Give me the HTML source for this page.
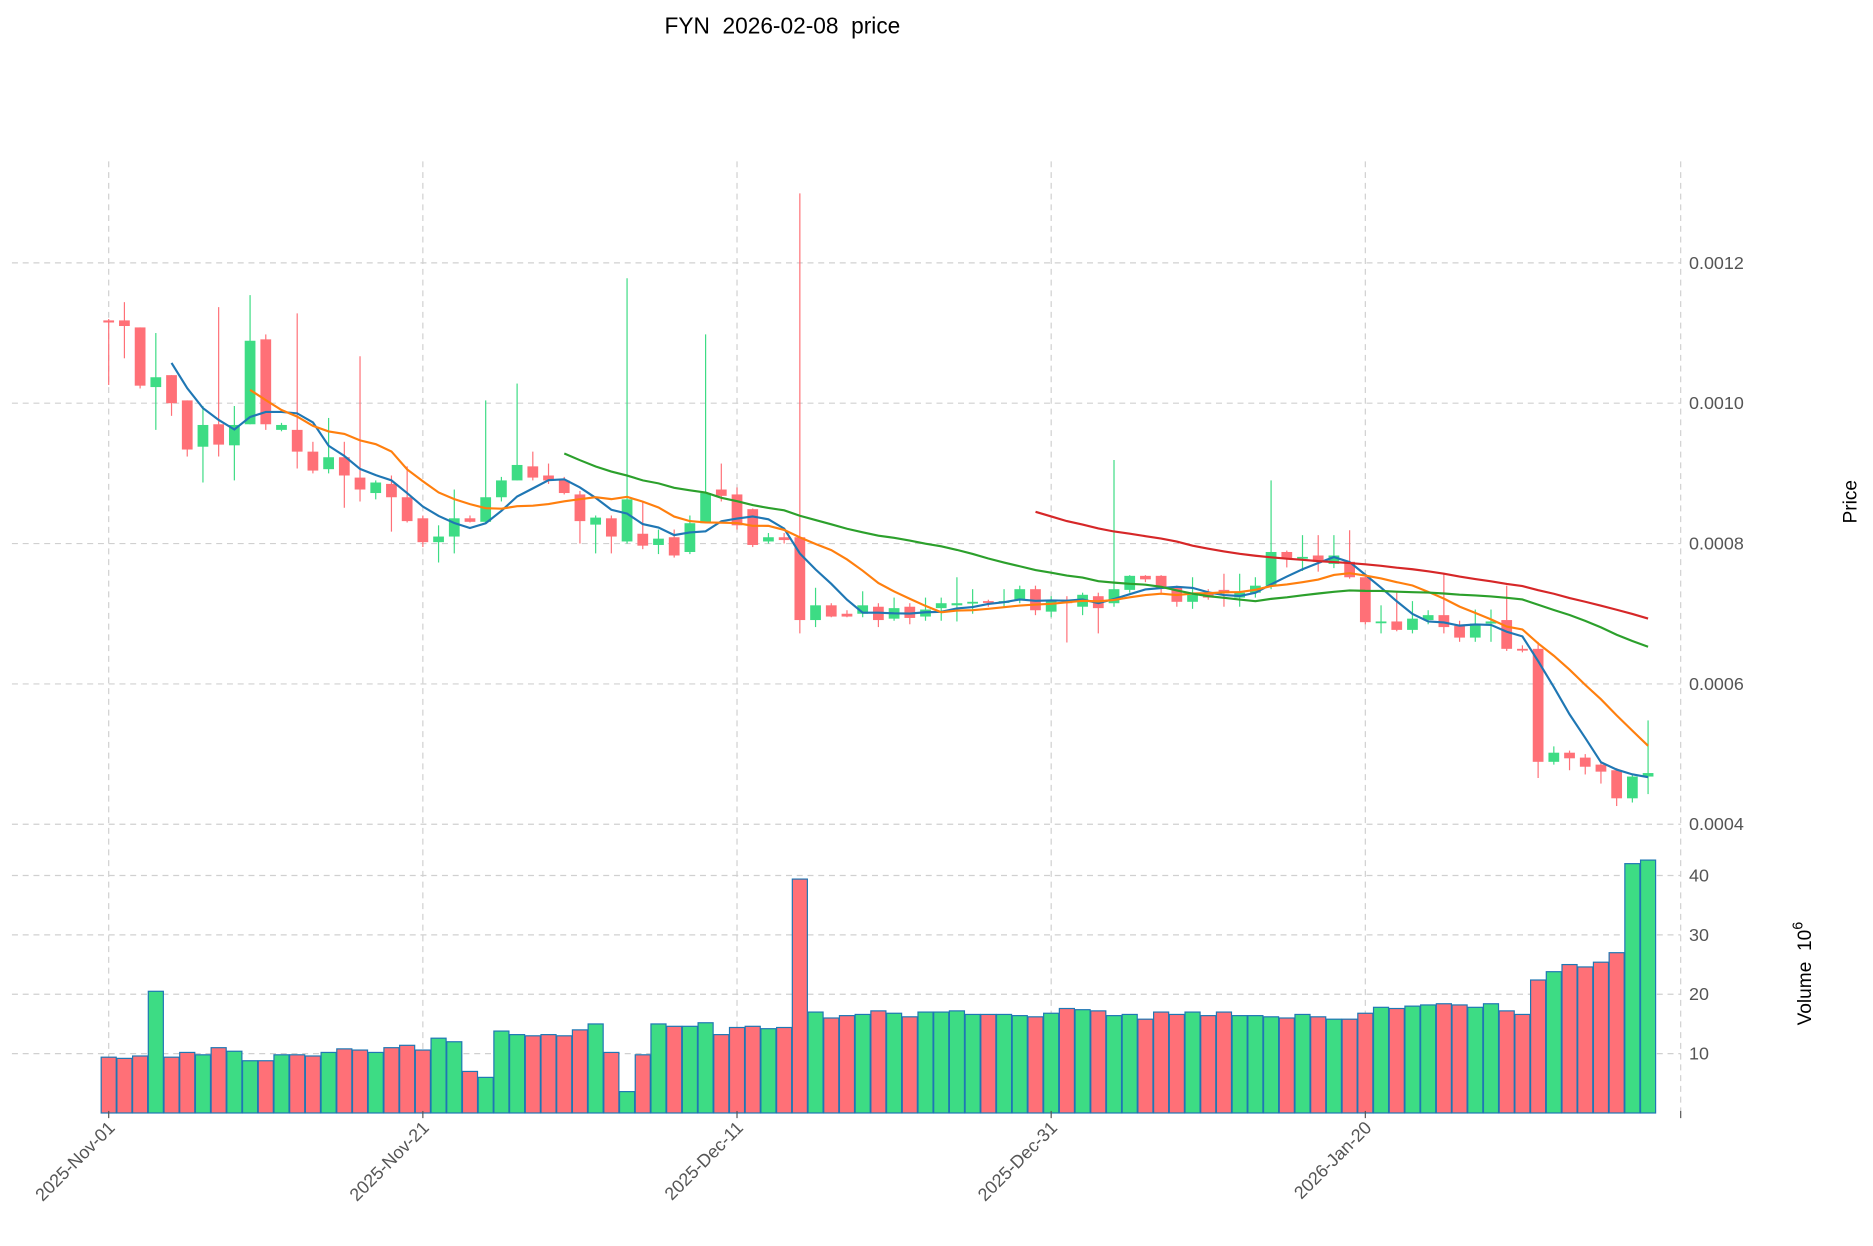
<!DOCTYPE html>
<html><head><meta charset="utf-8">
<style>
html,body{margin:0;padding:0;background:#fff;}
svg{display:block;font-family:"Liberation Sans","DejaVu Sans",sans-serif;}
</style></head>
<body>
<svg id="chart" width="1873" height="1246" viewBox="0 0 1568 1043" xmlns="http://www.w3.org/2000/svg">
<rect width="1568" height="1043" fill="#fff"/>
<text x="655" y="28" font-size="19" text-anchor="middle" fill="#000" style="white-space:pre">FYN  2026-02-08  price</text>
<g id="grid"></g>
<g id="vol"></g>
<g id="candles"></g>
<g id="mas"></g>
<g id="axes"></g>
<text x="0" y="0" font-size="16" fill="#000" text-anchor="middle" transform="translate(1554,420) rotate(-90)">Price</text>
<text x="0" y="0" font-size="16" fill="#000" text-anchor="middle" style="white-space:pre" transform="translate(1516,815) rotate(-90)">Volume  10<tspan font-size="12" dy="-7">6</tspan></text>
</svg>
<script>
const opens=[11.18,11.18,11.08,10.23,10.4,10.04,9.38,9.7,9.4,9.7,10.91,9.62,9.62,9.31,9.06,9.23,8.94,8.72,8.85,8.66,8.36,8.02,8.1,8.36,8.31,8.66,8.9,9.1,8.97,8.9,8.7,8.27,8.36,8.03,8.14,7.98,8.09,7.88,8.29,8.77,8.7,8.49,8.03,8.09,8.09,6.91,7.12,7.0,7.0,7.1,6.93,7.1,6.96,7.08,7.12,7.15,7.18,7.17,7.2,7.35,7.03,7.2,7.1,7.25,7.15,7.34,7.54,7.54,7.37,7.17,7.29,7.34,7.23,7.3,7.4,7.88,7.8,7.83,7.71,7.74,7.52,6.88,6.89,6.77,6.91,6.98,6.83,6.66,6.86,6.91,6.5,6.5,4.89,5.02,4.95,4.85,4.77,4.37,4.68];
const closes=[11.15,11.1,10.25,10.37,10.0,9.34,9.69,9.41,9.69,10.89,9.7,9.69,9.31,9.04,9.23,8.97,8.77,8.87,8.66,8.32,8.02,8.1,8.36,8.31,8.66,8.9,9.12,8.94,8.9,8.72,8.32,8.37,8.1,8.63,7.97,8.07,7.83,8.29,8.72,8.68,8.26,7.98,8.09,8.05,6.91,7.12,6.96,6.96,7.12,6.91,7.08,6.94,7.06,7.15,7.15,7.17,7.17,7.18,7.35,7.05,7.2,7.15,7.27,7.08,7.35,7.54,7.49,7.37,7.17,7.27,7.23,7.29,7.3,7.4,7.88,7.78,7.81,7.74,7.83,7.52,6.88,6.89,6.77,6.93,6.98,6.81,6.66,6.86,6.89,6.5,6.48,4.89,5.02,4.94,4.82,4.75,4.37,4.68,4.73];
const highs=[11.2,11.44,11.08,11.0,10.4,10.04,9.96,11.37,9.96,11.54,10.98,9.72,11.28,9.45,9.79,9.45,10.67,8.9,8.97,9.1,8.4,8.26,8.77,8.4,10.04,8.95,10.28,9.31,9.14,8.95,8.75,8.4,8.4,11.78,8.6,8.2,8.2,8.4,10.98,9.14,8.8,8.5,8.15,8.15,12.99,7.37,7.15,7.05,7.32,7.15,7.23,7.15,7.23,7.23,7.52,7.35,7.2,7.35,7.4,7.4,7.25,7.25,7.3,7.3,9.19,7.55,7.55,7.55,7.4,7.52,7.35,7.57,7.57,7.52,8.9,7.9,8.12,8.12,8.12,8.19,7.55,7.12,7.3,7.18,7.05,7.57,6.9,7.06,7.06,7.4,6.55,6.6,5.11,5.05,5.0,4.9,4.8,4.7,5.48];
const lows=[10.26,10.64,10.21,9.62,9.82,9.24,8.87,9.24,8.9,9.7,9.62,9.6,9.07,9.0,9.0,8.51,8.6,8.63,8.17,8.3,7.95,7.73,7.86,8.3,8.3,8.6,8.9,8.9,8.85,8.7,8.0,7.86,7.86,8.0,7.92,7.85,7.8,7.85,8.3,8.6,8.2,7.95,8.0,8.0,6.72,6.81,6.95,6.95,6.95,6.81,6.9,6.85,6.9,6.9,6.89,7.0,7.1,7.1,7.15,6.98,6.95,6.59,6.98,6.72,7.1,7.3,7.45,7.3,7.1,7.07,7.2,7.1,7.1,7.23,7.35,7.66,7.61,7.6,7.65,7.5,6.85,6.72,6.75,6.72,6.85,6.72,6.6,6.6,6.6,6.47,6.45,4.66,4.85,4.77,4.71,4.58,4.26,4.31,4.43];
const volumes=[9.4,9.2,9.6,20.5,9.4,10.2,9.8,11,10.4,8.8,8.8,9.8,9.8,9.6,10.2,10.8,10.6,10.2,11,11.4,10.6,12.6,12,7,6,13.8,13.2,13,13.2,13,14,15,10.2,3.6,9.8,15,14.6,14.6,15.2,13.2,14.4,14.6,14.2,14.4,39.4,17,16,16.4,16.6,17.2,16.8,16.2,17,17,17.2,16.6,16.6,16.6,16.4,16.2,16.8,17.6,17.4,17.2,16.4,16.6,15.8,17,16.6,17,16.4,17,16.4,16.4,16.2,16,16.6,16.2,15.8,15.8,16.8,17.8,17.6,18,18.2,18.4,18.2,17.8,18.4,17.2,16.6,22.4,23.8,25,24.6,25.4,27,42,42.6];
const priceTicks=[0.0004,0.0006,0.0008,0.0010,0.0012];
const volTicks=[10,20,30,40];
const dateLabels=["2025-Nov-01","2025-Nov-21","2025-Dec-11","2025-Dec-31","2026-Jan-20"];
const dateIdx=[0,20,40,60,80];
const maPeriods=[5,10,30,60];
const maColors=["#1f77b4","#ff7f0e","#2ca02c","#d62728"];

const NS="http://www.w3.org/2000/svg";
const X=i=>91+i*13.15;
const Y=p=>220+(0.0012-p)*470/0.0008;
const YU=u=>Y(u*1e-4);
const YV=v=>931.7-v*4.97;
const UP="#3ddc84", DN="#ff7077";
function mk(tag,attrs,parent){const e=document.createElementNS(NS,tag);for(const k in attrs)e.setAttribute(k,attrs[k]);parent.appendChild(e);return e;}
const grid=document.getElementById('grid'),vol=document.getElementById('vol'),cg=document.getElementById('candles'),mg=document.getElementById('mas'),ax=document.getElementById('axes');

priceTicks.forEach(t=>{
  const l=mk('line',{x1:10,x2:1407,y1:Y(t),y2:Y(t),stroke:'#d0d0d0','stroke-dasharray':'5,4','stroke-width':1},grid);
  
  
  const tx=mk('text',{x:1414,y:Y(t)+5,'font-size':15,fill:'#555'},ax);
  tx.textContent=t.toFixed(4);
  
  
});
volTicks.forEach(t=>{
  const l=mk('line',{x1:10,x2:1407,y1:YV(t),y2:YV(t),stroke:'#d0d0d0','stroke-dasharray':'5,4','stroke-width':1},grid);
  
  
  const tx=mk('text',{x:1414,y:YV(t)+5,'font-size':15,fill:'#555'},ax);
  tx.textContent=String(t);
  
  
});
[...dateIdx,99.5].forEach((d,k)=>{
  const x=k<dateIdx.length?X(d):1407;
  const l=mk('line',{x1:x,x2:x,y1:135,y2:930,stroke:'#d0d0d0','stroke-dasharray':'5,4','stroke-width':1},grid);
  
  
  mk('line',{x1:x,x2:x,y1:930,y2:936,stroke:'#555'},ax);
});
dateIdx.forEach((d,k)=>{
  const tx=mk('text',{x:0,y:0,'font-size':15,fill:'#555','text-anchor':'end',transform:`translate(${X(d)+6},${945}) rotate(-45)`},ax);
  tx.textContent=dateLabels[k];
  
  
});

for(let i=0;i<opens.length;i++){
  const up=closes[i]>=opens[i], c=up?UP:DN, x=X(i);
  const b=mk('rect',{x:x-6.3,y:YV(volumes[i]),width:12.6,height:931.7-YV(volumes[i]),fill:c,stroke:'#1f77b4','stroke-width':1},vol);
  
  
  const w=mk('line',{x1:x,x2:x,y1:YU(highs[i]),y2:YU(lows[i]),stroke:c,'stroke-width':1},cg);
  
  
  const top=YU(Math.max(opens[i],closes[i])),bot=YU(Math.min(opens[i],closes[i]));
  const r=mk('rect',{x:x-4.5,y:top,width:9,height:Math.max(bot-top,1.5),fill:c},cg);
  
  
}
maPeriods.forEach((n,k)=>{
  let pts=[];
  for(let i=n-1;i<closes.length;i++){let s=0;for(let j=i-n+1;j<=i;j++)s+=closes[j];pts.push(X(i).toFixed(1)+','+YU(s/n).toFixed(1));}
  const p=mk('polyline',{points:pts.join(' '),fill:'none',stroke:maColors[k],'stroke-width':1.8},mg);
  
  
});
</script>
</body></html>
